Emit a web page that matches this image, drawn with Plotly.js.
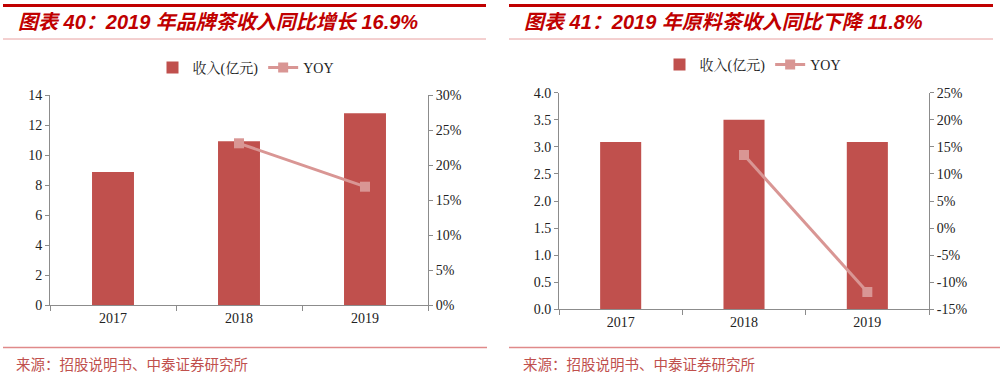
<!DOCTYPE html>
<html>
<head>
<meta charset="utf-8">
<script src="https://cdn.plot.ly/plotly-3.0.1.min.js"></script>
<style>html,body{margin:0;padding:0;background:#fff}#chart{width:1000px;height:373px}</style>
</head>
<body>
<div id="chart"></div>
<script>
// ---- data ----
const years = ['2017', '2018', '2019'];
const brandRevenue = [8.87, 10.91, 12.78];       // 品牌茶收入 (亿元)
const brandYoyYears = ['2018', '2019'];
const brandYoy = [0.231, 0.169];
const rawRevenue = [3.09, 3.50, 3.09];           // 原料茶收入 (亿元)
const rawYoyYears = ['2018', '2019'];
const rawYoy = [0.135, -0.118];
const title1 = '图表 40：2019 年品牌茶收入同比增长 16.9%';
const title2 = '图表 41：2019 年原料茶收入同比下降 11.8%';
const sourceText = '来源：招股说明书、中泰证券研究所';
const barName = '收入(亿元)';
const lineName = 'YOY';
const leftTicks1 = [0, 2, 4, 6, 8, 10, 12, 14];
const rightTicks1 = [0, 0.05, 0.10, 0.15, 0.20, 0.25, 0.30];
const rightText1 = ['0%', '5%', '10%', '15%', '20%', '25%', '30%'];
const leftTicks2 = [0, 0.5, 1.0, 1.5, 2.0, 2.5, 3.0, 3.5, 4.0];
const rightTicks2 = [-0.15, -0.10, -0.05, 0, 0.05, 0.10, 0.15, 0.20, 0.25];
const rightText2 = ['-15%', '-10%', '-5%', '0%', '5%', '10%', '15%', '20%', '25%'];

// ---- style ----
const W = 1000, H = 373;
const px = x => x / W, py = y => 1 - y / H;
const barColor = '#C0504D';
const lineColor = '#D99694';
const axisColor = '#8C8C8C';
const serif = "Liberation Serif, 'Times New Roman', 'Noto Serif CJK SC', 'Noto Sans CJK SC', serif";
const titleFont = "Liberation Sans, Arial, 'Noto Sans CJK SC', sans-serif";
const cjk = "'Noto Sans CJK SC', sans-serif";
const tickFont = {family: serif, size: 14, color: '#222'};

const traces = [
  {type: 'bar', x: years, y: brandRevenue, name: barName, marker: {color: barColor},
   xaxis: 'x', yaxis: 'y', legend: 'legend', hoverinfo: 'x+y'},
  {type: 'scatter', mode: 'lines+markers', x: brandYoyYears, y: brandYoy, name: lineName,
   line: {color: lineColor, width: 3}, marker: {symbol: 'square', size: 10, color: lineColor},
   xaxis: 'x', yaxis: 'y2', legend: 'legend'},
  {type: 'bar', x: years, y: rawRevenue, name: barName, marker: {color: barColor},
   xaxis: 'x2', yaxis: 'y3', legend: 'legend2'},
  {type: 'scatter', mode: 'lines+markers', x: rawYoyYears, y: rawYoy, name: lineName,
   line: {color: lineColor, width: 3}, marker: {symbol: 'square', size: 10, color: lineColor},
   xaxis: 'x2', yaxis: 'y4', legend: 'legend2'}
];

const xCommon = {type: 'category', showline: true, linecolor: axisColor, linewidth: 1,
  ticks: 'outside', tickson: 'boundaries', ticklen: 5, tickcolor: axisColor,
  tickfont: tickFont, showgrid: false, zeroline: false, fixedrange: true};
const yCommon = {showline: true, linecolor: axisColor, linewidth: 1, ticks: 'outside',
  ticklen: 4, tickcolor: axisColor, tickfont: tickFont, showgrid: false, zeroline: false,
  fixedrange: true};

const layout = {
  width: W, height: H, margin: {l: 0, r: 0, t: 0, b: 0},
  paper_bgcolor: '#fff', plot_bgcolor: '#fff',
  barmode: 'group', bargap: 0.667, showlegend: true,
  xaxis: Object.assign({}, xCommon, {domain: [px(50), px(428)], anchor: 'y'}),
  yaxis: Object.assign({}, yCommon, {domain: [py(305), py(95)], range: [0, 14],
    tickvals: leftTicks1, anchor: 'x'}),
  yaxis2: Object.assign({}, yCommon, {domain: [py(305), py(95)], range: [0, 0.30],
    tickvals: rightTicks1, ticktext: rightText1, overlaying: 'y', side: 'right', anchor: 'x'}),
  xaxis2: Object.assign({}, xCommon, {domain: [px(559), px(929)], anchor: 'y3'}),
  yaxis3: Object.assign({}, yCommon, {domain: [py(309.3), py(92.7)], range: [0, 4],
    tickvals: leftTicks2, tickformat: '.1f', anchor: 'x2'}),
  yaxis4: Object.assign({}, yCommon, {domain: [py(309.3), py(92.7)], range: [-0.15, 0.25],
    tickvals: rightTicks2, ticktext: rightText2, overlaying: 'y3', side: 'right', anchor: 'x2'}),
  legend: {orientation: 'h', x: px(246), xanchor: 'center', y: py(68), yanchor: 'middle',
    font: {family: serif, size: 14, color: '#222'}, bgcolor: 'rgba(0,0,0,0)', itemwidth: 30,
    traceorder: 'normal'},
  legend2: {orientation: 'h', x: px(753), xanchor: 'center', y: py(65), yanchor: 'middle',
    font: {family: serif, size: 14, color: '#222'}, bgcolor: 'rgba(0,0,0,0)', itemwidth: 30,
    traceorder: 'normal'},
  shapes: [
    // top thick red rules
    {type: 'line', xref: 'paper', yref: 'paper', x0: px(3), x1: px(486), y0: py(5.5), y1: py(5.5), line: {color: '#C00000', width: 3}},
    {type: 'line', xref: 'paper', yref: 'paper', x0: px(509), x1: px(993), y0: py(5.5), y1: py(5.5), line: {color: '#C00000', width: 3}},
    // thin rules under titles
    {type: 'line', xref: 'paper', yref: 'paper', x0: px(3), x1: px(486), y0: py(39), y1: py(39), line: {color: '#E8A0A0', width: 1}},
    {type: 'line', xref: 'paper', yref: 'paper', x0: px(509), x1: px(993), y0: py(39), y1: py(39), line: {color: '#E8A0A0', width: 1}},
    // source rules
    {type: 'line', xref: 'paper', yref: 'paper', x0: px(3), x1: px(487), y0: py(347.5), y1: py(347.5), line: {color: '#E08A8A', width: 1.5}},
    {type: 'line', xref: 'paper', yref: 'paper', x0: px(509), x1: px(1000), y0: py(347.5), y1: py(347.5), line: {color: '#E08A8A', width: 1.5}}
  ],
  annotations: [
    {xref: 'paper', yref: 'paper', x: px(16), y: py(22), xanchor: 'left', yanchor: 'middle', showarrow: false,
     text: '<b><i>' + title1 + '</i></b>', font: {family: titleFont, size: 20, color: '#C00000', weight: 900}},
    {xref: 'paper', yref: 'paper', x: px(522), y: py(22), xanchor: 'left', yanchor: 'middle', showarrow: false,
     text: '<b><i>' + title2 + '</i></b>', font: {family: titleFont, size: 20, color: '#C00000', weight: 900}},
    {xref: 'paper', yref: 'paper', x: px(14), y: py(363), xanchor: 'left', yanchor: 'middle', showarrow: false,
     text: sourceText, font: {family: cjk, size: 14.5, color: '#C0504D'}},
    {xref: 'paper', yref: 'paper', x: px(521), y: py(363), xanchor: 'left', yanchor: 'middle', showarrow: false,
     text: sourceText, font: {family: cjk, size: 14.5, color: '#C0504D'}}
  ]
};

Plotly.newPlot('chart', traces, layout, {displayModeBar: false, staticPlot: true});
</script>
</body>
</html>
